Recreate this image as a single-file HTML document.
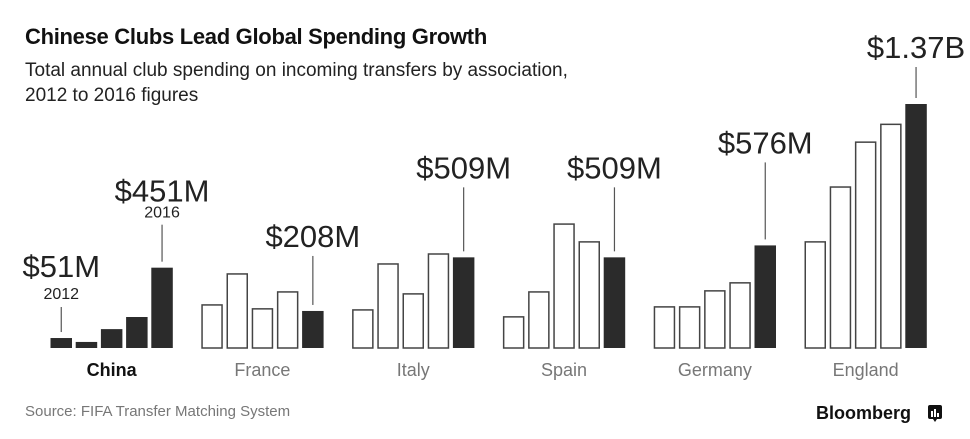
<!DOCTYPE html>
<html><head><meta charset="utf-8"><style>
html,body{margin:0;padding:0;background:#fff;}
body{width:970px;height:439px;overflow:hidden;font-family:"Liberation Sans",sans-serif;position:relative;}
.t{position:absolute;white-space:nowrap;}
</style></head><body>
<div class="t" style="left:25px;top:24px;font-size:22px;font-weight:bold;color:#111;letter-spacing:-0.3px;">Chinese Clubs Lead Global Spending Growth</div>
<div class="t" style="left:25px;top:58px;font-size:19px;line-height:25px;color:#222;">Total annual club spending on incoming transfers by association,<br>2012 to 2016 figures</div>
<svg id="chart" width="970" height="439" style="position:absolute;left:0;top:0;font-family:'Liberation Sans',sans-serif;"></svg>
<div class="t" style="left:25px;top:403px;font-size:15px;color:#777;">Source: FIFA Transfer Matching System</div>
<div class="t" style="left:816px;top:403px;font-size:18px;font-weight:bold;color:#111;">Bloomberg</div>
<svg style="position:absolute;left:928px;top:405px" width="14" height="18"><rect x="0" y="0" width="14" height="14" rx="2" fill="#111"/><polygon points="5,14 9,14 7,17" fill="#111"/><rect x="3" y="6" width="2" height="6" fill="#fff"/><rect x="6" y="4" width="2" height="8" fill="#fff"/><rect x="9" y="8" width="2" height="4" fill="#fff"/></svg>
<script>
const countries = ["China","France","Italy","Spain","Germany","England"];
const china = [56,34,106,174,451];
const france = [246,420,224,319,208];
const italy = [218,476,308,532,509];
const spain = [179,319,700,600,509];
const germany = [235,235,325,370,576];
const england = [600,908,1160,1260,1370];
const valueLabels = ["$451M","$208M","$509M","$509M","$576M","$1.37B"];
const series = [china,france,italy,spain,germany,england];
const labelGap = [66,64,79,79,92,46];

const svg = document.getElementById('chart');
const NS = "http://www.w3.org/2000/svg";
const baseY = 348, scale = 244/1370;
const y = v => baseY - v*scale;
const groupX = i => 50.5 + 150.8*i;
const barX = (i,j) => groupX(i) + j*25.2;
const barW = 21.5;
function mk(tag, attrs){const e=document.createElementNS(NS,tag);for(const k in attrs)e.setAttribute(k,attrs[k]);svg.appendChild(e);return e;}

series.forEach((vals,i)=>{
  vals.forEach((v,j)=>{
    const last = (i===0) || j===4;
    const r = mk('rect',{x:barX(i,j)+(last?0:0.75),y:y(v)+(last?0:0.75),width:barW-(last?0:1.5),height:baseY-y(v)-(last?0:0.75),fill:last?'#2b2b2b':'#fff',stroke:last?'none':'#444','stroke-width':1.5});
    
    
  });
  const cx = groupX(i) + (4*25.2+barW)/2;
  const lab = mk('text',{x:cx,y:376,'text-anchor':'middle','font-size':18,fill:i===0?'#111':'#777','font-weight':i===0?'bold':'normal'});
  lab.textContent = countries[i];
  
  
  const v = vals[4];
  const lx = barX(i,4) + barW/2;
  const top = y(v);
  const textBase = top - labelGap[i];
  const lineTop = textBase + (i===0 ? 23 : 9);
  const ln = mk('line',{x1:lx,x2:lx,y1:lineTop,y2:top-6,stroke:'#555','stroke-width':1.2});
  
  
  const vt = mk('text',{x:lx,y:textBase,'text-anchor':'middle','font-size':31,fill:'#222'});
  vt.textContent = valueLabels[i];
  
  
  if(i===0){
    const yt = mk('text',{x:lx,y:textBase+16,'text-anchor':'middle','font-size':16,fill:'#222'});
    yt.textContent = "2016";
    
    
    const fx = barX(0,0)+barW/2, ft = y(vals[0]);
    const fl = mk('line',{x1:fx,x2:fx,y1:307,y2:ft-6,stroke:'#555','stroke-width':1.2});
    
    
    const ft1 = mk('text',{x:fx,y:277,'text-anchor':'middle','font-size':31,fill:'#222'});
    ft1.textContent = "$51M";
    
    
    const ft2 = mk('text',{x:fx,y:299,'text-anchor':'middle','font-size':16,fill:'#222'});
    ft2.textContent = "2012";
    
    
  }
});
</script>
</body></html>
